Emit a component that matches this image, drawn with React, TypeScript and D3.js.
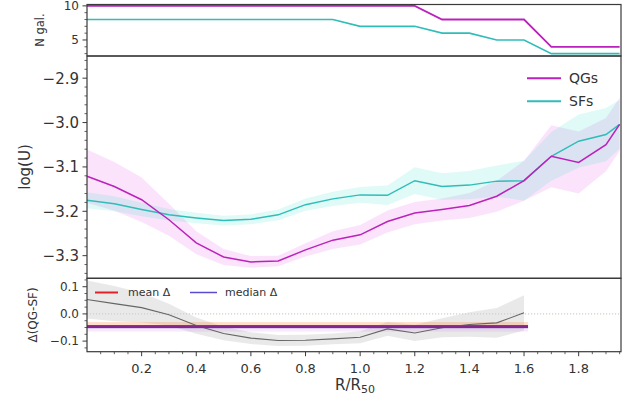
import React from "react";
import * as d3 from "d3";

// Radial bins (R / R50)
const radius = [0, 0.1, 0.2, 0.3, 0.4, 0.5, 0.6, 0.7, 0.8, 0.9, 1.0, 1.1, 1.2, 1.3, 1.4, 1.5, 1.6, 1.7, 1.8, 1.9, 1.95];

// Number of galaxies contributing to each bin
const nGalQG = [10, 10, 10, 10, 10, 10, 10, 10, 10, 10, 10, 10, 10, 8, 8, 8, 8, 4, 4, 4, 4];
const nGalSF = [8, 8, 8, 8, 8, 8, 8, 8, 8, 8, 7, 7, 7, 6, 6, 5, 5, 3, 3, 3, 3];

// Ionisation parameter profiles and their uncertainties
const logUQG = [-3.121, -3.144, -3.174, -3.219, -3.271, -3.303, -3.314, -3.312, -3.287, -3.265, -3.253, -3.223, -3.204, -3.196, -3.187, -3.166, -3.131, -3.076, -3.09, -3.05, -3.004];
const logUQGErr = [0.06, 0.055, 0.05, 0.036, 0.026, 0.018, 0.013, 0.012, 0.015, 0.02, 0.022, 0.025, 0.025, 0.025, 0.028, 0.035, 0.045, 0.07, 0.07, 0.06, 0.06];
const logUSF = [-3.175, -3.183, -3.196, -3.208, -3.215, -3.221, -3.218, -3.208, -3.185, -3.172, -3.163, -3.164, -3.131, -3.144, -3.141, -3.132, -3.131, -3.076, -3.042, -3.027, -3.004];
const logUSFErr = [0.018, 0.017, 0.015, 0.013, 0.012, 0.011, 0.011, 0.012, 0.014, 0.016, 0.018, 0.022, 0.03, 0.03, 0.032, 0.035, 0.045, 0.055, 0.06, 0.06, 0.055];

// Difference QG - SF
const deltaRadius = [0, 0.1, 0.2, 0.3, 0.4, 0.5, 0.6, 0.7, 0.8, 0.9, 1.0, 1.1, 1.2, 1.3, 1.4, 1.5, 1.6];
const deltaQGSF = [0.053, 0.038, 0.023, -0.003, -0.043, -0.072, -0.089, -0.098, -0.097, -0.092, -0.086, -0.055, -0.07, -0.051, -0.039, -0.033, 0.004];
const deltaErr = [0.07, 0.065, 0.055, 0.04, 0.03, 0.025, 0.022, 0.02, 0.02, 0.02, 0.022, 0.025, 0.03, 0.035, 0.045, 0.055, 0.065];
const meanDelta = -0.046;
const meanDeltaBand = [-0.052, -0.03];
const medianDelta = -0.048;
const medianDeltaBand = [-0.065, -0.044];

// Tick labels
const xTicks = [0.2, 0.4, 0.6, 0.8, 1.0, 1.2, 1.4, 1.6, 1.8];
const nTicks = [5, 10];
const uTicks = [-3.3, -3.2, -3.1, -3.0, -2.9];
const dTicks = [-0.1, 0.0, 0.1];

const W = 633;
const H = 399;
const L = 87;
const R = 621;
const FONT = "DejaVu Sans, sans-serif";
const QG = "#bb22bb";
const SF = "#30bdb8";
const SPINE = "#3a3a3a";

const fmt1 = (v: number) => d3.format(".1f")(v).replace("-", "\u2212");

export default function App() {
  const x = d3.scaleLinear().domain([0, 1.955]).range([L, R]);
  const yN = d3.scaleLinear().domain([2.65, 10.2]).range([56, 4.5]);
  const yU = d3.scaleLinear().domain([-3.351, -2.85]).range([278.3, 56]);
  const yD = d3.scaleLinear().domain([-0.139, 0.131]).range([351.7, 278.3]);

  const lineN = (vals: number[]) =>
    d3.line<number>().x((_, i) => x(radius[i])).y((v) => yN(v))(vals) as string;
  const lineU = (vals: number[]) =>
    d3.line<number>().x((_, i) => x(radius[i])).y((v) => yU(v))(vals) as string;
  const bandU = (vals: number[], err: number[]) =>
    d3
      .area<number>()
      .x((_, i) => x(radius[i]))
      .y0((v, i) => yU(v - err[i]))
      .y1((v, i) => yU(v + err[i]))(vals) as string;
  const lineD = d3.line<number>().x((_, i) => x(deltaRadius[i])).y((v) => yD(v))(deltaQGSF) as string;
  const bandD = d3
    .area<number>()
    .x((_, i) => x(deltaRadius[i]))
    .y0((v, i) => yD(v - deltaErr[i]))
    .y1((v, i) => yD(v + deltaErr[i]))(deltaQGSF) as string;

  const xMinor = d3.range(0.05, 1.96, 0.05).filter((v) => Math.abs(v / 0.2 - Math.round(v / 0.2)) > 1e-6);
  const nMinor = d3.range(3, 11, 1).filter((v) => !nTicks.includes(v));
  const uMinor = d3.range(-3.34, -2.85, 0.02).filter((v) => Math.abs(v * 10 - Math.round(v * 10)) > 1e-6);
  const dMinor = d3.range(-0.125, 0.13, 0.025).filter((v) => Math.abs(v * 10 - Math.round(v * 10)) > 1e-6);

  const yTicksBlock = (
    scale: d3.ScaleLinear<number, number>,
    major: number[],
    minor: number[],
    fmt: (v: number) => string,
    size: number,
    key: string
  ) => (
    <g key={key}>
      {minor.map((v, i) => (
        <line key={"m" + i} x1={L - 2.5} x2={L} y1={scale(v)} y2={scale(v)} stroke={SPINE} strokeWidth={0.8} />
      ))}
      {major.map((v, i) => (
        <g key={"M" + i}>
          <line x1={L - 4.5} x2={L} y1={scale(v)} y2={scale(v)} stroke={SPINE} strokeWidth={1} />
          <text x={L - 8} y={scale(v)} dy="0.36em" textAnchor="end" fontSize={size} fill="#333" fontFamily={FONT}>
            {fmt(v)}
          </text>
        </g>
      ))}
    </g>
  );

  const dRange = [x(0), x(1.6)];

  return (
    <svg width={W} height={H} style={{ position: "absolute", left: 0, top: 0, background: "#fff" }}>
      {/* Top panel: number of galaxies */}
      <path d={lineN(nGalSF)} fill="none" stroke={SF} strokeWidth={1.6} />
      <path d={lineN(nGalQG)} fill="none" stroke={QG} strokeWidth={1.8} />

      {/* Main panel: log(U) profiles */}
      <path d={bandU(logUQG, logUQGErr)} fill="violet" opacity={0.22} />
      <path d={bandU(logUSF, logUSFErr)} fill="#40e0d0" opacity={0.17} />
      <path d={lineU(logUSF)} fill="none" stroke={SF} strokeWidth={1.5} />
      <path d={lineU(logUQG)} fill="none" stroke={QG} strokeWidth={1.5} />

      {/* Legend */}
      <line x1={527} x2={561} y1={yU(-2.9)} y2={yU(-2.9)} stroke={QG} strokeWidth={2} />
      <text x={569} y={yU(-2.9)} dy="0.36em" fontSize={14} fill="#333" fontFamily={FONT}>QGs</text>
      <line x1={527} x2={561} y1={yU(-2.952)} y2={yU(-2.952)} stroke={SF} strokeWidth={2} />
      <text x={569} y={yU(-2.952)} dy="0.36em" fontSize={14} fill="#333" fontFamily={FONT}>SFs</text>

      {/* Bottom panel: difference */}
      <line x1={L} x2={R} y1={yD(0)} y2={yD(0)} stroke="#c4c4b4" strokeWidth={1} strokeDasharray="1.2 1.8" />
      <path d={bandD} fill="#cfcfcf" opacity={0.45} />
      <rect x={dRange[0]} width={dRange[1] - dRange[0] + 4} y={yD(meanDeltaBand[1])} height={yD(meanDeltaBand[0]) - yD(meanDeltaBand[1])} fill="#ff8a40" opacity={0.28} />
      <rect x={dRange[0]} width={dRange[1] - dRange[0] + 4} y={yD(medianDeltaBand[1])} height={yD(medianDeltaBand[0]) - yD(medianDeltaBand[1])} fill="#d060e0" opacity={0.14} />
      <path d={lineD} fill="none" stroke="#666" strokeWidth={1.1} />
      <line x1={dRange[0]} x2={dRange[1] + 4} y1={yD(meanDelta)} y2={yD(meanDelta)} stroke="#e3202a" strokeWidth={3} />
      <line x1={dRange[0]} x2={dRange[1] + 4} y1={yD(medianDelta)} y2={yD(medianDelta)} stroke="#4a2ad0" strokeWidth={2.4} opacity={0.6} />

      <line x1={95} x2={118} y1={292.5} y2={292.5} stroke="#e3202a" strokeWidth={2} />
      <text x={128} y={292.5} dy="0.36em" fontSize={11} fill="#333" fontFamily={FONT}>mean Δ</text>
      <line x1={190} x2={217} y1={292.5} y2={292.5} stroke="#5a4ad0" strokeWidth={1.5} />
      <text x={225} y={292.5} dy="0.36em" fontSize={11} fill="#333" fontFamily={FONT}>median Δ</text>

      {/* Frames */}
      <rect x={L} y={4.5} width={R - L} height={56 - 4.5} fill="none" stroke={SPINE} strokeWidth={1.2} />
      <rect x={L} y={56} width={R - L} height={278.3 - 56} fill="none" stroke={SPINE} strokeWidth={1.2} />
      <rect x={L} y={278.3} width={R - L} height={351.7 - 278.3} fill="none" stroke={SPINE} strokeWidth={1.2} />

      {/* Y axes */}
      {yTicksBlock(yN, nTicks, nMinor, (v) => String(v), 12, "n")}
      {yTicksBlock(yU, uTicks, uMinor, fmt1, 15, "u")}
      {yTicksBlock(yD, dTicks, dMinor, fmt1, 12, "d")}

      {/* X axis */}
      {xMinor.map((v, i) => (
        <line key={"xm" + i} x1={x(v)} x2={x(v)} y1={351.7} y2={354.2} stroke={SPINE} strokeWidth={0.8} />
      ))}
      {xTicks.map((v, i) => (
        <g key={"xt" + i}>
          <line x1={x(v)} x2={x(v)} y1={351.7} y2={356.2} stroke={SPINE} strokeWidth={1} />
          <text x={x(v)} y={373} textAnchor="middle" fontSize={13} fill="#333" fontFamily={FONT}>
            {fmt1(v)}
          </text>
        </g>
      ))}

      {/* Axis labels */}
      <text transform="translate(40,30) rotate(-90)" dy="0.36em" textAnchor="middle" fontSize={11.5} fill="#333" fontFamily={FONT}>N gal.</text>
      <text transform="translate(25,167) rotate(-90)" dy="0.36em" textAnchor="middle" fontSize={15} fill="#333" fontFamily={FONT}>log(U)</text>
      <text transform="translate(33,315) rotate(-90)" dy="0.36em" textAnchor="middle" fontSize={12} fill="#333" fontFamily={FONT}>Δ(QG-SF)</text>
      <text x={355} y={390} textAnchor="middle" fontSize={15} fill="#333" fontFamily={FONT}>
        R/R<tspan fontSize={11} dy={3}>50</tspan>
      </text>
    </svg>
  );
}
